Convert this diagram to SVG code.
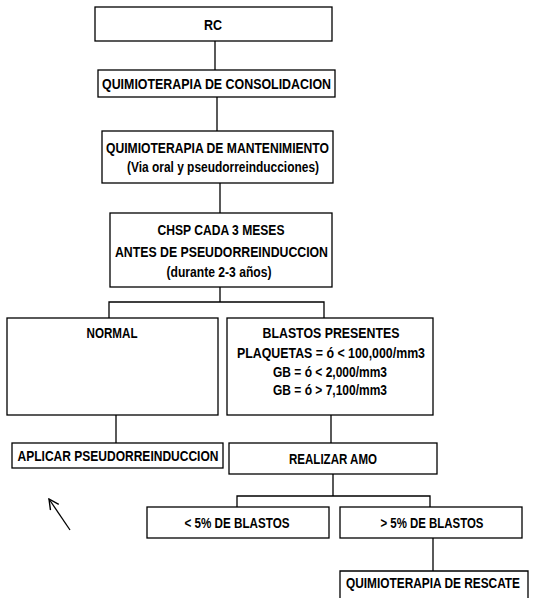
<svg xmlns="http://www.w3.org/2000/svg" width="536" height="598" viewBox="0 0 536 598">
<defs>
<style>
.box{fill:#fff;stroke:#000;stroke-width:1.3}
.t{font-family:"Liberation Sans Narrow","Liberation Sans",Arial,sans-serif;font-weight:bold;font-size:15px;fill:#000;text-anchor:middle}
.c{fill:none;stroke:#000;stroke-width:1.3}
</style>
<marker id="ah" viewBox="0 0 12 12" refX="11" refY="6" markerWidth="12" markerHeight="12" markerUnits="userSpaceOnUse" orient="auto">
<path d="M1,1 L11,6 L1,11" fill="none" stroke="#000" stroke-width="1.4"/>
</marker>
</defs>
<rect width="536" height="598" fill="#fff"/>
<g id="connectors">
<path class="c" d="M215,41V70"/>
<path class="c" d="M217,97V131"/>
<path class="c" d="M220,183V213"/>
<path class="c" d="M220,287V302M109,318V302H324V318"/>
<path class="c" d="M116,415V443"/>
<path class="c" d="M331,415V443"/>
<path class="c" d="M333,474V496M237,507V496H430V507"/>
<path class="c" d="M433,538V571"/>
<path class="c" d="M70,530L49,499" marker-end="url(#ah)"/>
</g>
<g id="rc"><rect class="box" x="95" y="7" width="237" height="34"/><text class="t" x="213" y="30" textLength="18" lengthAdjust="spacingAndGlyphs">RC</text></g>
<g id="consolidacion"><rect class="box" x="98" y="70" width="237" height="27"/><text class="t" x="216.5" y="89" textLength="229" lengthAdjust="spacingAndGlyphs">QUIMIOTERAPIA DE CONSOLIDACION</text></g>
<g id="mantenimiento"><rect class="box" x="102" y="131" width="231" height="52"/><text class="t" x="217.5" y="153" textLength="223" lengthAdjust="spacingAndGlyphs">QUIMIOTERAPIA DE MANTENIMIENTO</text><text class="t" x="223" y="172" textLength="192" lengthAdjust="spacingAndGlyphs">(Via oral y pseudorreinducciones)</text></g>
<g id="chsp"><rect class="box" x="110" y="213" width="222" height="74"/><text class="t" x="221" y="235" textLength="127" lengthAdjust="spacingAndGlyphs">CHSP CADA 3 MESES</text><text class="t" x="221.5" y="257" textLength="213" lengthAdjust="spacingAndGlyphs">ANTES DE PSEUDORREINDUCCION</text><text class="t" x="219" y="277" textLength="105" lengthAdjust="spacingAndGlyphs">(durante 2-3 años)</text></g>
<g id="normal"><rect class="box" x="7" y="318" width="211" height="97"/><text class="t" x="112" y="338" textLength="51" lengthAdjust="spacingAndGlyphs">NORMAL</text></g>
<g id="blastos"><rect class="box" x="227" y="318" width="206" height="97"/><text class="t" x="331" y="338" textLength="137" lengthAdjust="spacingAndGlyphs">BLASTOS PRESENTES</text><text class="t" x="331" y="358" textLength="188" lengthAdjust="spacingAndGlyphs">PLAQUETAS = ó &lt; 100,000/mm3</text><text class="t" x="330" y="377" textLength="114" lengthAdjust="spacingAndGlyphs">GB = ó &lt; 2,000/mm3</text><text class="t" x="330" y="395" textLength="114" lengthAdjust="spacingAndGlyphs">GB = ó &gt; 7,100/mm3</text></g>
<g id="aplicar"><rect class="box" x="12" y="443" width="211" height="25"/><text class="t" x="118" y="461" textLength="201" lengthAdjust="spacingAndGlyphs">APLICAR PSEUDORREINDUCCION</text></g>
<g id="amo"><rect class="box" x="229" y="443" width="208" height="31"/><text class="t" x="333" y="464" textLength="88" lengthAdjust="spacingAndGlyphs">REALIZAR AMO</text></g>
<g id="menos5"><rect class="box" x="147" y="507" width="182" height="31"/><text class="t" x="237" y="528" textLength="105" lengthAdjust="spacingAndGlyphs">&lt; 5% DE BLASTOS</text></g>
<g id="mas5"><rect class="box" x="340" y="507" width="182" height="31"/><text class="t" x="432" y="528" textLength="103" lengthAdjust="spacingAndGlyphs">&gt; 5% DE BLASTOS</text></g>
<g id="rescate"><path class="box" d="M340,598V571H528V598"/><text class="t" x="433" y="588" textLength="174" lengthAdjust="spacingAndGlyphs">QUIMIOTERAPIA DE RESCATE</text></g>
</svg>
